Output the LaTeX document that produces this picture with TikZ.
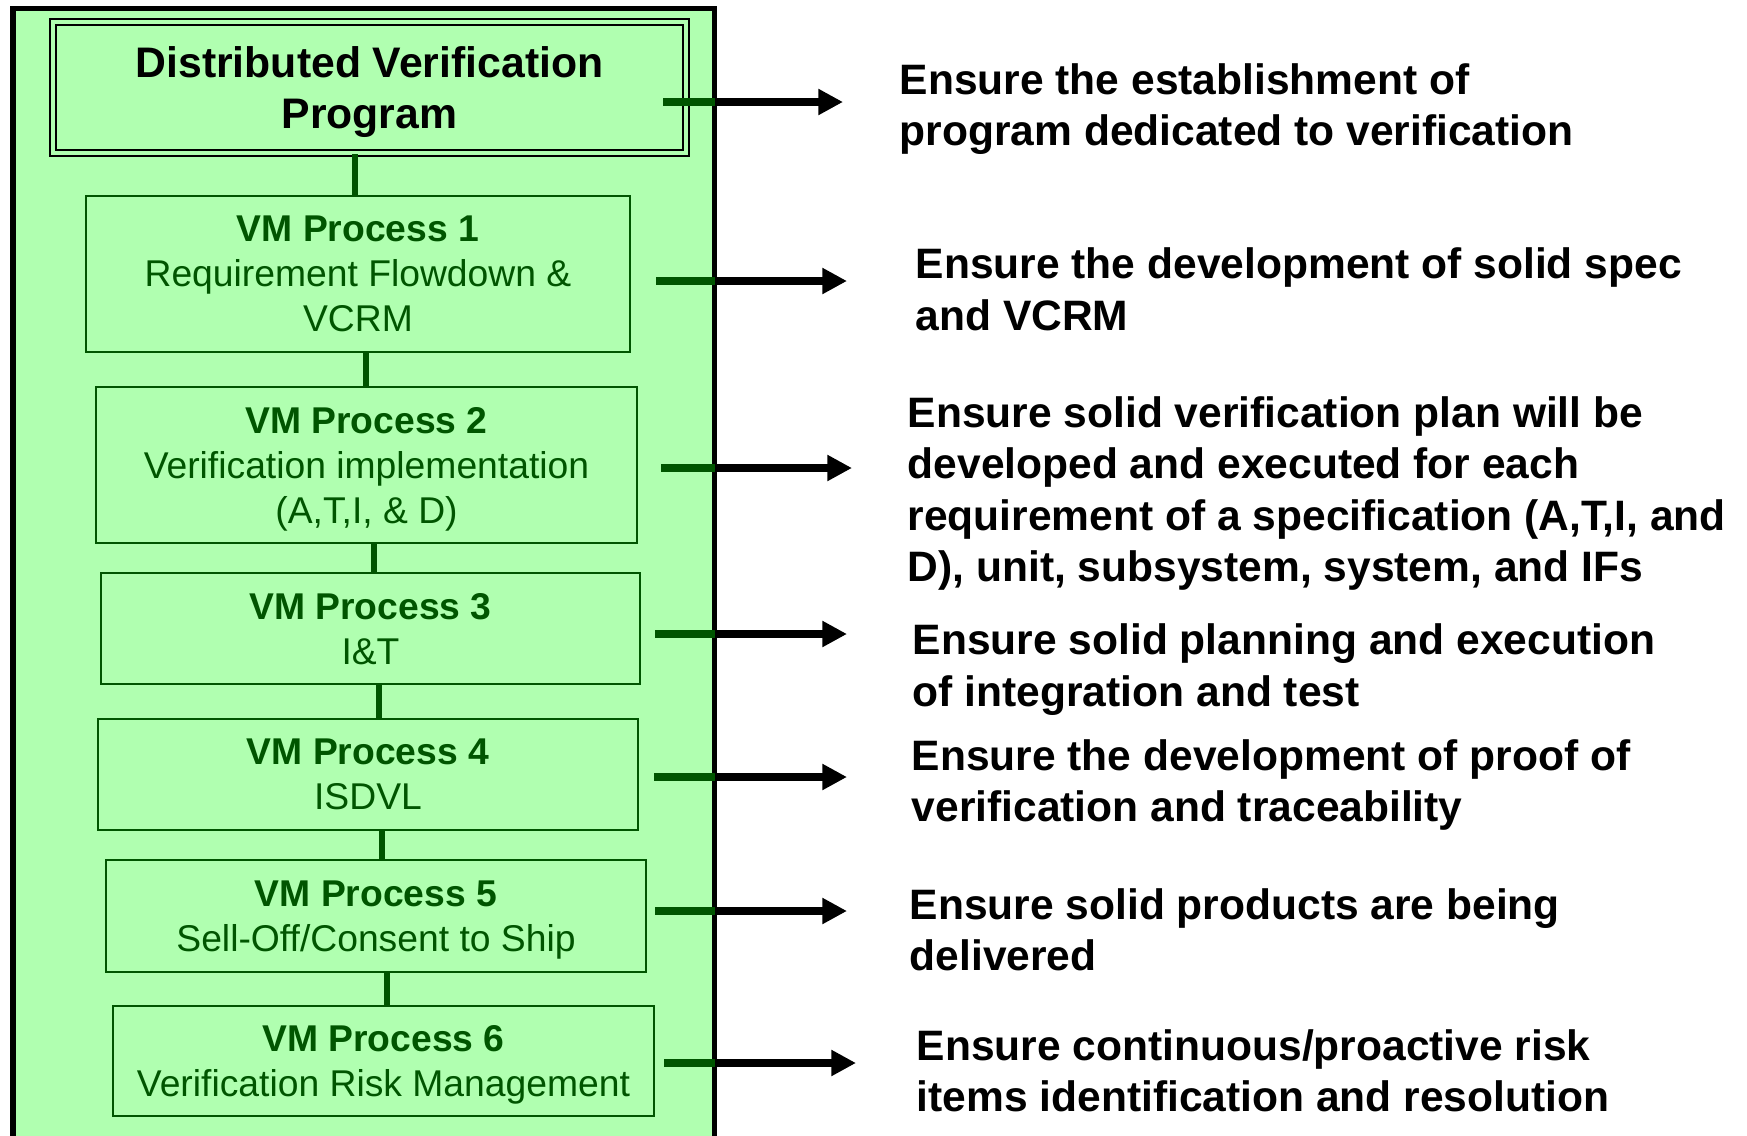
\documentclass[tikz,border=0pt]{standalone}
\usepackage{fontspec}
\setmainfont{Liberation Sans}
\usetikzlibrary{arrows.meta,calc}
\definecolor{vmfill}{RGB}{176,255,176}
\definecolor{vmgreen}{RGB}{0,85,0}

\begin{document}
\begin{tikzpicture}[x=0.01cm, y=-0.01cm,
  proc/.style={draw=vmgreen, line width=0.7pt, fill=vmfill, text=vmgreen, align=center,
    inner sep=0, text depth=0pt, font=\fontsize{10.6}{12.8}\selectfont,
    execute at begin node={\rule{0pt}{8.8pt}}},
  link/.style={vmgreen, line width=1.7pt},
  goal/.style={anchor=west, align=left, inner sep=0, text depth=0pt,
    font=\fontsize{12.1}{14.6}\selectfont\bfseries},
  feed/.style={line width=2pt, -{Triangle[length=7pt,width=7pt]}}]
\useasboundingbox (0,0) rectangle (1747,1136);

% 外框
\draw[line width=1.5pt, fill=vmfill] (13,8.5) rectangle (714.5,1160);
\coordinate (fr) at (714.5,0);

% 左侧各框
\node[draw, double=vmfill, double distance=1.2pt, line width=0.6pt, fill=vmfill, align=center,
  inner sep=0, text depth=0pt, minimum width=6.33cm, minimum height=1.31cm,
  font=\fontsize{12.15}{14.6}\selectfont\bfseries] (title) at (369.5,87.5)
  {Distributed Verification\\Program};
\node[proc, minimum width=5.44cm, minimum height=1.56cm] (b1) at (358,274)
  {\textbf{VM Process 1}\\Requirement Flowdown \&\\VCRM};
\node[proc, minimum width=5.41cm, minimum height=1.56cm] (b2) at (366.5,465)
  {\textbf{VM Process 2}\\Verification implementation\\(A,T,I, \& D)};
\node[proc, minimum width=5.39cm, minimum height=1.11cm] (b3) at (370.5,628.5)
  {\textbf{VM Process 3}\\I\&T};
\node[proc, minimum width=5.40cm, minimum height=1.11cm] (b4) at (368,774.5)
  {\textbf{VM Process 4}\\ISDVL};
\node[proc, minimum width=5.40cm, minimum height=1.12cm] (b5) at (376,916)
  {\textbf{VM Process 5}\\Sell-Off/Consent to Ship};
\node[proc, minimum width=5.41cm, minimum height=1.10cm] (b6) at (383.5,1061)
  {\textbf{VM Process 6}\\Verification Risk Management};

% 竖直连线
\coordinate (c1) at (355,0);
\coordinate (c2) at (366,0);
\coordinate (c3) at (374,0);
\coordinate (c4) at (379,0);
\coordinate (c5) at (382,0);
\coordinate (c6) at (387,0);
\draw[link] (title.south -| c1) -- (b1.north -| c1);
\draw[link] (b1.south -| c2) -- (b2.north -| c2);
\draw[link] (b2.south -| c3) -- (b3.north -| c3);
\draw[link] (b3.south -| c4) -- (b4.north -| c4);
\draw[link] (b4.south -| c5) -- (b5.north -| c5);
\draw[link] (b5.south -| c6) -- (b6.north -| c6);

% 右侧说明
\node[goal] (t0) at (899,104.5) {Ensure the establishment of\\program dedicated to verification};
\node[goal] (t1) at (915,289) {Ensure the development of solid spec\\and VCRM};
\node[goal] (t2) at (907,489) {Ensure solid verification plan will be\\developed and executed for each\\requirement of a specification (A,T,I, and\\D), unit, subsystem, system, and IFs};
\node[goal] (t3) at (912,665) {Ensure solid planning and execution\\of integration and test};
\node[goal] (t4) at (911,780.5) {Ensure the development of proof of\\verification and traceability};
\node[goal] (t5) at (909,929.5) {Ensure solid products are being\\delivered};
\node[goal] (t6) at (916,1070.5) {Ensure continuous/proactive risk\\items identification and resolution};

% 箭头
\coordinate (s0) at (663,102);
\coordinate (s1) at (656,281);
\coordinate (s2) at (661,468);
\coordinate (s3) at (655,634);
\coordinate (s4) at (654,777);
\coordinate (s5) at (655,911);
\coordinate (s6) at (664,1063);
\draw[link, line width=2pt] (s0) -- (s0 -| fr);
\draw[feed] (s0 -| fr) -- ($(s0 -| t0.west)+(-56,0)$);
\draw[link, line width=2pt] (s1) -- (s1 -| fr);
\draw[feed] (s1 -| fr) -- ($(s1 -| t1.west)+(-68,0)$);
\draw[link, line width=2pt] (s2) -- (s2 -| fr);
\draw[feed] (s2 -| fr) -- ($(s2 -| t2.west)+(-55,0)$);
\draw[link, line width=2pt] (s3) -- (s3 -| fr);
\draw[feed] (s3 -| fr) -- ($(s3 -| t3.west)+(-65,0)$);
\draw[link, line width=2pt] (s4) -- (s4 -| fr);
\draw[feed] (s4 -| fr) -- ($(s4 -| t4.west)+(-64,0)$);
\draw[link, line width=2pt] (s5) -- (s5 -| fr);
\draw[feed] (s5 -| fr) -- ($(s5 -| t5.west)+(-62,0)$);
\draw[link, line width=2pt] (s6) -- (s6 -| fr);
\draw[feed] (s6 -| fr) -- ($(s6 -| t6.west)+(-60,0)$);
\end{tikzpicture}
\end{document}
